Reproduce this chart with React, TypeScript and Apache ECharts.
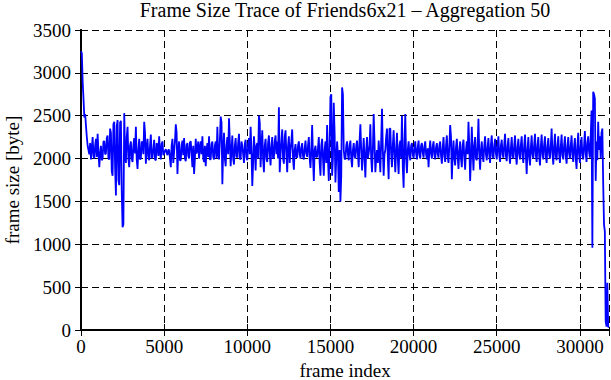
import React, { useEffect, useRef } from "react";
import * as echarts from "echarts";

const TITLE = "Frame Size Trace of Friends6x21 \u2013 Aggregation 50";
const X_NAME = "frame index";
const Y_NAME = "frame size [byte]";
const AGG_STEP = 50; // frame index spacing of the aggregated samples
const Y_MAX = 3500;
const Y_INTERVAL = 500;
const X_INTERVAL = 5000;

// frame size per aggregated sample (one every 50 frames)
const frameSizes = [
  3250, 3230, 2900, 2700, 2480, 2520, 2380, 2250, 2150, 2100, 2050, 2180, 1990, 2120, 2250, 2030, 2000, 2150, 2230, 2020,
  2290, 2080, 1900, 2050, 2150, 1980, 2000, 2200, 2200, 2050, 2060, 2240, 2270, 2000, 1990, 2350, 2300, 1850, 1800, 2400,
  2430, 1900, 1570, 2380, 2450, 1750, 1690, 2420, 2440, 1620, 1200, 1230, 2530, 2050, 1950, 2250, 2370, 2000, 1900, 2150,
  2200, 2000, 1960, 2150, 2240, 2060, 2370, 1990, 1880, 2100, 2230, 1990, 2000, 2200, 2180, 2050, 2430, 2300, 1940, 2120,
  2230, 2020, 1980, 2150, 2280, 2000, 2020, 2120, 2220, 1990, 1980, 2180, 2160, 2030, 2260, 2080, 1990, 2170, 2200, 2040,
  2060, 2090, 2110, 2070, 2040, 2100, 2100, 2000, 1900, 2150, 2230, 1950, 2080, 2200, 2400, 2300, 1820, 2100, 2200, 1980,
  1980, 2150, 2210, 2040, 2240, 2000, 1970, 2160, 2180, 2030, 2000, 2190, 2200, 2050, 1900, 2150, 1820, 2000, 2230, 2060,
  2100, 2200, 2000, 2130, 2200, 2050, 2260, 2000, 1960, 2150, 1910, 2100, 2180, 2020, 2260, 1990, 1990, 2170, 2200, 2020,
  1990, 2150, 2200, 2000, 2370, 2050, 1990, 2200, 2490, 2420, 1700, 2100, 2300, 2000, 1910, 2150, 2250, 2050, 2470, 2200,
  1910, 2100, 2270, 2000, 1930, 2150, 2240, 2030, 2010, 2180, 2290, 2000, 1990, 2200, 2150, 2050, 1950, 2170, 2220, 2010,
  1980, 2150, 2240, 2050, 2370, 2100, 1680, 1950, 2260, 2100, 1860, 2150, 2180, 2000, 2500, 2420, 1900, 2150, 2330, 2000,
  1840, 2150, 2230, 2000, 1960, 2180, 2270, 2050, 1920, 2150, 2250, 2000, 2010, 2200, 2270, 2050, 2200, 2000, 2600, 1840,
  2050, 2200, 2340, 2000, 1940, 2250, 2330, 2050, 1840, 2150, 2260, 1950, 2100, 2200, 2340, 2000, 1870, 2100, 2170, 2020,
  2010, 2150, 2200, 2050, 2000, 2130, 2180, 2030, 1990, 2120, 2210, 2060, 2020, 2150, 2250, 2000, 1890, 2100, 2390, 2000,
  1740, 2100, 2150, 2020, 2020, 2120, 2250, 1950, 1800, 2150, 2230, 2000, 1800, 2100, 2200, 1950, 2390, 2000, 1740, 2150,
  2720, 2750, 1800, 2000, 2650, 2300, 1720, 2000, 2200, 2050, 1610, 2100, 1500, 1800, 2830, 2750, 2100, 2000, 1990, 2150,
  2200, 2050, 1980, 2150, 2210, 2000, 1900, 2100, 2180, 2030, 2000, 2150, 2210, 2050, 1900, 2200, 2400, 2100, 1860, 2050,
  2240, 2000, 1780, 2100, 2250, 2000, 2060, 2150, 2400, 2000, 1840, 2100, 2520, 2200, 1840, 2000, 2100, 1950, 2210, 2050,
  1840, 2200, 2580, 2100, 1800, 2050, 2100, 2250, 2350, 2000, 1760, 2350, 2350, 2050, 1900, 2150, 2330, 2050, 1840, 2100,
  2300, 2000, 1820, 2150, 2210, 2000, 2500, 1900, 1660, 2200, 2520, 2000, 1830, 2100, 2200, 2050, 1980, 2150, 2180, 2050,
  2000, 2120, 2200, 2060, 1990, 2130, 2210, 2040, 2000, 2150, 2180, 2070, 2010, 2140, 2200, 2050, 1990, 2120, 1900, 2100,
  2210, 2060, 2000, 2140, 2200, 2040, 1990, 2130, 2180, 2050, 2010, 2150, 2200, 2030, 1940, 2120, 2250, 2030, 1960, 2150,
  2270, 2020, 1950, 2150, 2390, 2250, 1760, 2050, 2210, 2000, 1920, 2130, 2230, 2020, 1880, 2100, 2200, 2000, 1900, 2150,
  2220, 2020, 1870, 2100, 2200, 2050, 2430, 2150, 1740, 2000, 2370, 2080, 1860, 2150, 2250, 2000, 1980, 2150, 2465, 2050,
  1870, 2100, 2200, 2030, 1960, 2150, 2260, 2050, 1980, 2130, 2240, 2040, 1950, 2160, 2270, 2030, 2000, 2150, 2230, 2060,
  1990, 2140, 2260, 2040, 1960, 2150, 2220, 2050, 2010, 2160, 2290, 2030, 1970, 2140, 2240, 2050, 1940, 2120, 2250, 2030,
  2000, 2150, 2270, 2040, 1930, 2130, 2230, 2050, 1990, 2160, 2260, 2030, 1950, 2150, 2280, 2050, 1820, 2100, 2250, 2020,
  1920, 2130, 2270, 2050, 2000, 2160, 2290, 2040, 1960, 2150, 2250, 2030, 1920, 2140, 2280, 2050, 1990, 2160, 2260, 2030,
  1950, 2140, 2240, 2050, 2000, 2150, 2350, 2060, 1930, 2140, 2290, 2030, 1980, 2150, 2260, 2050, 1950, 2140, 2280, 2040,
  1990, 2150, 2260, 2040, 1940, 2130, 2250, 2060, 2000, 2150, 2270, 2040, 1960, 2140, 2240, 2000, 1880, 2150, 2300, 2050,
  1950, 2140, 2250, 2040, 1990, 2150, 2320, 2060, 1960, 2180, 2260, 2080, 2010, 2250, 2560, 960, 2780, 2750, 2700, 1740,
  2200, 1980, 2430, 2100, 2260, 2000, 2300, 2350, 1720, 1230, 1150, 100, 40, 550, 40, 30,
];

const FONT = "Liberation Serif";

export default function App() {
  const ref = useRef<HTMLDivElement>(null);
  useEffect(() => {
    document.body.style.margin = "0";
    const chart = echarts.init(ref.current!, null, { renderer: "svg" });
    const data = frameSizes.map((v, i) => [i * AGG_STEP, v]);
    const xMax = (frameSizes.length - 1) * AGG_STEP;
    const black = "#000";
    const gridLeft = 81;
    const gridRight = 2;
    const lineAxis = { show: true, lineStyle: { color: black, width: 2 } };
    const tick = { show: true, inside: true, length: 6, lineStyle: { color: black, width: 1 } };
    const split = { show: true, lineStyle: { color: black, width: 1, type: [7, 4] } };
    const label = { color: black, fontFamily: FONT, fontSize: 19 };
    const nameStyle = { color: black, fontFamily: FONT, fontSize: 19 };
    chart.setOption({
      animation: false,
      backgroundColor: "#fff",
      graphic: [
        {
          type: "text",
          x: gridLeft + (611 - gridLeft - gridRight) / 2,
          y: 0,
          style: {
            text: TITLE,
            fill: black,
            font: `20px "${FONT}"`,
            textAlign: "center",
            textVerticalAlign: "top",
          },
        },
      ],
      grid: {
        left: gridLeft,
        right: gridRight,
        top: 30,
        bottom: 50,
        containLabel: false,
        outerBoundsMode: "none",
      },
      xAxis: [
        {
          type: "value",
          position: "bottom",
          min: 0,
          max: xMax,
          interval: X_INTERVAL,
          name: X_NAME,
          nameLocation: "middle",
          nameGap: 29,
          nameTextStyle: nameStyle,
          axisLine: lineAxis,
          axisTick: tick,
          splitLine: split,
          axisLabel: {
            ...label,
            margin: 7,
            showMaxLabel: false,
            formatter: (v: number) => (v % X_INTERVAL === 0 ? String(v) : ""),
          },
        },
        {
          type: "value",
          position: "top",
          min: 0,
          max: xMax,
          interval: X_INTERVAL,
          axisLine: lineAxis,
          axisTick: tick,
          splitLine: { show: false },
          axisLabel: { show: false },
        },
      ],
      yAxis: [
        {
          type: "value",
          position: "left",
          min: 0,
          max: Y_MAX,
          interval: Y_INTERVAL,
          name: Y_NAME,
          nameLocation: "middle",
          nameRotate: 90,
          nameGap: 59,
          nameTextStyle: nameStyle,
          axisLine: lineAxis,
          axisTick: tick,
          splitLine: split,
          axisLabel: { ...label, margin: 10, formatter: (v: number) => String(v) },
        },
        {
          type: "value",
          position: "right",
          min: 0,
          max: Y_MAX,
          interval: Y_INTERVAL,
          axisLine: lineAxis,
          axisTick: tick,
          splitLine: { show: false },
          axisLabel: { show: false },
        },
      ],
      series: [
        {
          type: "line",
          data,
          xAxisIndex: 0,
          yAxisIndex: 0,
          showSymbol: false,
          symbol: "none",
          lineStyle: { color: "#0000ff", width: 1.8 },
          z: 3,
        },
      ],
    });
    return () => chart.dispose();
  }, []);
  return (
    <div
      ref={ref}
      style={{ position: "absolute", left: 0, top: 0, width: 611, height: 380 }}
    />
  );
}
